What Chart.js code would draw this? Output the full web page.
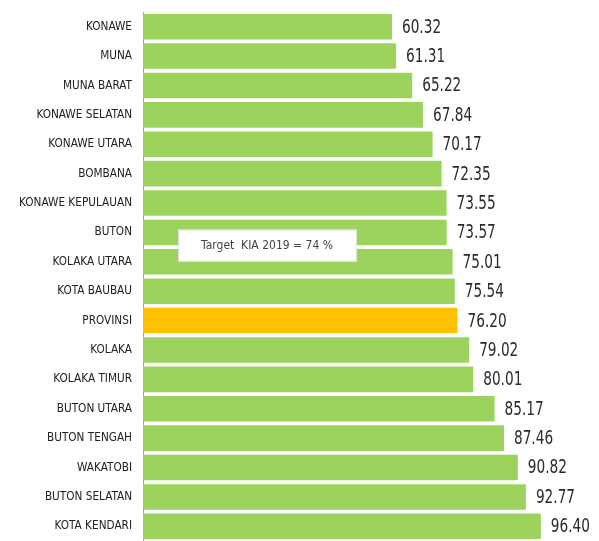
<!DOCTYPE html>
<html>
<head>
<meta charset="utf-8">
<script src="https://cdn.jsdelivr.net/npm/chart.js@4/dist/chart.umd.min.js"></script>
<style>
  html, body { margin: 0; padding: 0; background: #fff; }
  canvas { display: block; }
</style>
</head>
<body>
<canvas id="kia-chart" width="599" height="541"></canvas>
<script>
// Data
const kabupaten = [
    'KONAWE', 'MUNA', 'MUNA BARAT', 'KONAWE SELATAN', 'KONAWE UTARA',
    'BOMBANA', 'KONAWE KEPULAUAN', 'BUTON', 'KOLAKA UTARA', 'KOTA BAUBAU',
    'PROVINSI', 'KOLAKA', 'KOLAKA TIMUR', 'BUTON UTARA', 'BUTON TENGAH',
    'WAKATOBI', 'BUTON SELATAN', 'KOTA KENDARI'
];
const capaian = [
    60.32, 61.31, 65.22, 67.84, 70.17,
    72.35, 73.55, 73.57, 75.01, 75.54,
    76.20, 79.02, 80.01, 85.17, 87.46,
    90.82, 92.77, 96.40
];
const targetLabel = 'Target  KIA 2019 = 74 %';

const cond = '"DejaVu Sans Condensed", "Liberation Sans", sans-serif';

// Warna: provinsi oranye, lainnya hijau
const barColors = kabupaten.map(k => k === 'PROVINSI' ? '#FFC000' : '#9BD35C');

// Label nilai di ujung batang (teks dipersempit)
const valueLabels = {
    id: 'valueLabels',
    afterDatasetsDraw(chart) {
        const ctx = chart.ctx;
        const meta = chart.getDatasetMeta(0);
        ctx.save();
        ctx.font = '19px ' + cond;
        ctx.fillStyle = '#2b2b2b';
        ctx.textAlign = 'left';
        ctx.textBaseline = 'middle';
        meta.data.forEach((bar, i) => {
            ctx.save();
            ctx.translate(bar.x + 10, bar.y + 1);
            ctx.scale(0.8, 1);
            ctx.fillText(capaian[i].toFixed(2), 0, 0);
            ctx.restore();
        });
        ctx.restore();
    }
};

// Kotak keterangan target
const targetBox = {
    id: 'targetBox',
    afterDatasetsDraw(chart) {
        const ctx = chart.ctx;
        const x = chart.scales.x;
        const y = chart.scales.y;
        const left = x.getPixelForValue(8.5);
        const right = x.getPixelForValue(51.8);
        const mid = (y.getPixelForValue(7) + y.getPixelForValue(8)) / 2 - 1.5;
        ctx.save();
        ctx.fillStyle = '#fff';
        ctx.strokeStyle = '#e0e0e0';
        ctx.lineWidth = 1;
        ctx.fillRect(left, mid - 16, right - left, 32);
        ctx.strokeRect(left + 0.5, mid - 15.5, right - left - 1, 31);
        ctx.font = '12px ' + cond;
        ctx.fillStyle = '#444';
        ctx.textBaseline = 'middle';
        ctx.fillText(targetLabel, left + 23, mid);
        ctx.restore();
    }
};

new Chart(document.getElementById('kia-chart'), {
    type: 'bar',
    data: {
        labels: kabupaten,
        datasets: [{
            data: capaian,
            backgroundColor: barColors,
            borderWidth: 0,
            barPercentage: 0.87,
            categoryPercentage: 1
        }]
    },
    options: {
        indexAxis: 'y',
        responsive: false,
        animation: false,
        layout: { padding: { top: 12, right: 2, bottom: 0, left: 0 } },
        plugins: {
            legend: { display: false },
            tooltip: { enabled: false }
        },
        scales: {
            x: {
                display: false,
                min: 0,
                max: 110
            },
            y: {
                afterFit(scale) {
                    scale.width = 143;
                    scale.paddingTop = 0;
                    scale.paddingBottom = 0;
                },
                grid: { display: false, drawTicks: false },
                border: { display: true, color: '#a0a0a0', width: 1 },
                ticks: {
                    padding: 11,
                    color: '#222',
                    font: { family: cond, size: 11.7 }
                }
            }
        }
    },
    plugins: [valueLabels, targetBox]
});
</script>
</body>
</html>
